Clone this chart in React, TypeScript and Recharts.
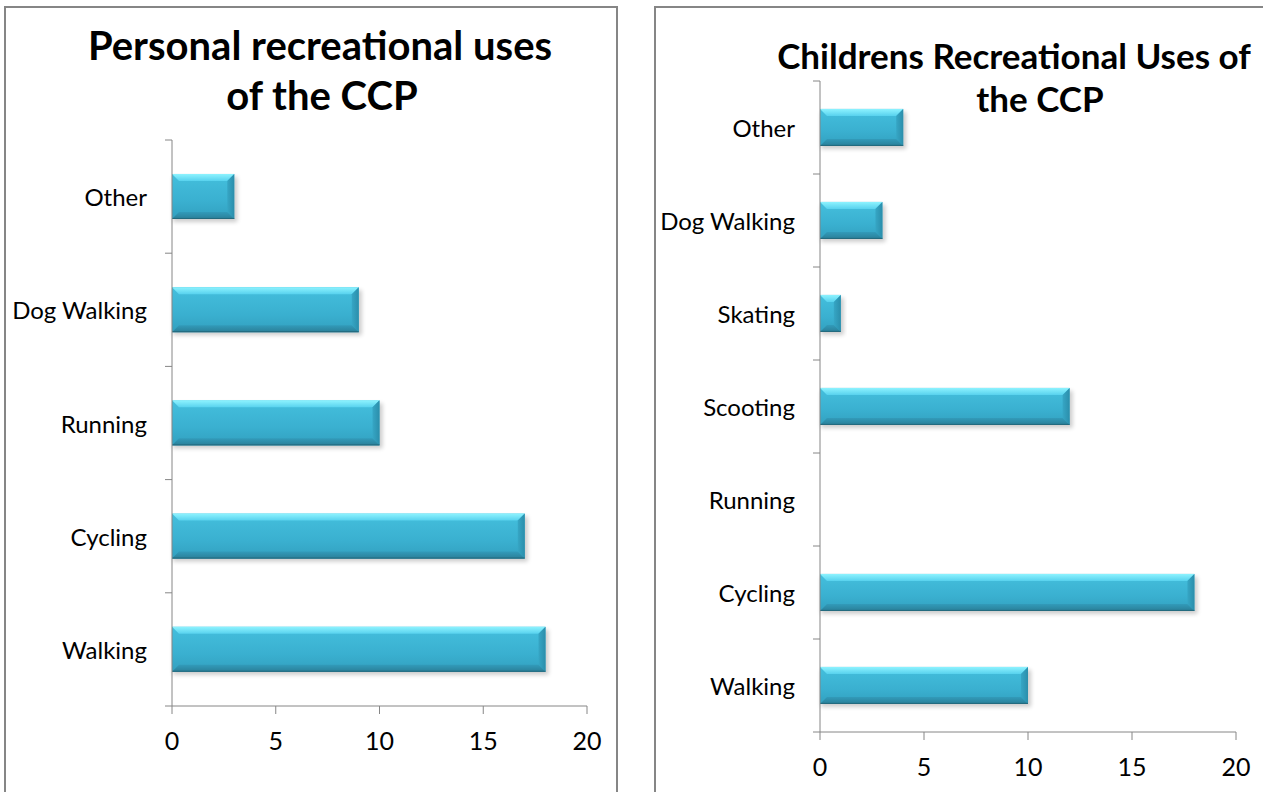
import React from "react";
import { BarChart, Bar, XAxis, YAxis } from "recharts";

// personal uses, listed top to bottom as drawn
const personalCategories = ["Other", "Dog Walking", "Running", "Cycling", "Walking"];
const personalValues = [3, 9, 10, 17, 18];

// childrens uses, top to bottom
const childCategories = ["Other", "Dog Walking", "Skating", "Scooting", "Running", "Cycling", "Walking"];
const childValues = [4, 3, 1, 12, 0, 18, 10];

const xTicks = [0, 5, 10, 15, 20];

const FONT = "Lato, 'Open Sans', sans-serif";
const AXIS = "#868686";

const personalData = personalCategories.map((name, i) => ({ name, value: personalValues[i] }));
const childData = childCategories.map((name, i) => ({ name, value: childValues[i] }));

function BevelBar(props: any) {
  const { x, y, width, height } = props;
  if (!width || width <= 0) return null;
  const b = Math.min(7, width / 2, height / 4);
  return (
    <g>
      <rect x={x + 1} y={y + 3} width={width + 2} height={height} fill="#000" opacity={0.2} filter="url(#barShadow)" />
      <rect x={x} y={y} width={width} height={height} fill="url(#barFace)" />
      <polygon
        points={`${x},${y} ${x + width},${y} ${x + width - b},${y + b} ${x + b},${y + b}`}
        fill="url(#barTop)"
      />
      <polygon
        points={`${x + width},${y} ${x + width},${y + height} ${x + width - b},${y + height - b} ${x + width - b},${y + b}`}
        fill="url(#barRight)"
      />
      <polygon
        points={`${x},${y + height} ${x + width},${y + height} ${x + width - b},${y + height - b} ${x + b},${y + height - b}`}
        fill="url(#barBottom)"
      />
      <line x1={x} x2={x + width} y1={y + height - 0.5} y2={y + height - 0.5} stroke="#23697d" strokeWidth={1} />
    </g>
  );
}

function CategoryTick(props: any) {
  const { x, y, payload, index, visibleTicksCount } = props;
  const half = payload.offset || 0;
  const axisX = x + 8;
  return (
    <g>
      <line x1={axisX - 7} x2={axisX} y1={y - half} y2={y - half} stroke={AXIS} />
      {index === visibleTicksCount - 1 && (
        <line x1={axisX - 7} x2={axisX} y1={y + half} y2={y + half} stroke={AXIS} />
      )}
      <text x={x - 17} y={y} textAnchor="end" dominantBaseline="central" fontFamily={FONT} fontSize={24} fill="#000">
        {payload.value}
      </text>
    </g>
  );
}

function Defs() {
  return (
    <defs>
      <linearGradient id="barFace" x1="0" y1="0" x2="0" y2="1">
        <stop offset="0%" stopColor="#44bfdd" />
        <stop offset="60%" stopColor="#3ab0d0" />
        <stop offset="100%" stopColor="#32a0bf" />
      </linearGradient>
      <linearGradient id="barTop" x1="0" y1="0" x2="0" y2="1">
        <stop offset="0%" stopColor="#8ef3ff" />
        <stop offset="100%" stopColor="#58d2ee" />
      </linearGradient>
      <linearGradient id="barRight" x1="0" y1="0" x2="1" y2="0">
        <stop offset="0%" stopColor="#36a6c5" />
        <stop offset="100%" stopColor="#2b8eab" />
      </linearGradient>
      <linearGradient id="barBottom" x1="0" y1="0" x2="0" y2="1">
        <stop offset="0%" stopColor="#329bba" />
        <stop offset="100%" stopColor="#2a7f98" />
      </linearGradient>
      <filter id="barShadow" x="-10%" y="-30%" width="120%" height="160%">
        <feGaussianBlur stdDeviation="2" />
      </filter>
    </defs>
  );
}

function HBarChart({ data, width, height, margin, yWidth }: any) {
  return (
    <BarChart layout="vertical" width={width} height={height} data={data} margin={margin} barCategoryGap="30%">
      <Defs />
      <XAxis
        type="number"
        domain={[0, 20]}
        ticks={xTicks}
        height={60}
        stroke={AXIS}
        tickSize={8}
        tick={{ fill: "#000", fontSize: 25, fontFamily: FONT }}
        tickMargin={18}
      />
      <YAxis
        type="category"
        dataKey="name"
        width={yWidth}
        stroke={AXIS}
        tickLine={false}
        tick={<CategoryTick />}
        interval={0}
      />
      <Bar dataKey="value" shape={<BevelBar />} isAnimationActive={false} />
    </BarChart>
  );
}

const panel: React.CSSProperties = {
  position: "absolute",
  border: `2px solid ${AXIS}`,
  background: "#fff",
  boxSizing: "border-box",
};

const titleStyle: React.CSSProperties = {
  position: "absolute",
  fontFamily: FONT,
  fontWeight: 700,
  color: "#000",
  whiteSpace: "nowrap",
  transform: "translate(-50%, -50%)",
};

export default function App() {
  return (
    <div style={{ position: "absolute", left: 0, top: 0, width: 1263, height: 792, overflow: "hidden", background: "#fff" }}>
      <div style={{ ...panel, left: 4, top: 6, width: 614, height: 820 }} />
      <div style={{ ...panel, left: 654, top: 6, width: 640, height: 820 }} />

      <div style={{ position: "absolute", left: 0, top: 0 }}>
        <HBarChart
          data={personalData}
          width={630}
          height={792}
          yWidth={172}
          margin={{ top: 140, right: 43, bottom: 26, left: 0 }}
        />
      </div>
      <div style={{ position: "absolute", left: 640, top: 0 }}>
        <HBarChart
          data={childData}
          width={623}
          height={792}
          yWidth={180}
          margin={{ top: 81, right: 27, bottom: 0, left: 0 }}
        />
      </div>

      <div style={{ ...titleStyle, left: 320, top: 45, fontSize: 40 }}>Personal recreational uses</div>
      <div style={{ ...titleStyle, left: 322, top: 95, fontSize: 40 }}>of the CCP</div>
      <div style={{ ...titleStyle, left: 1014, top: 55, fontSize: 35 }}>Childrens Recreational Uses of</div>
      <div style={{ ...titleStyle, left: 1040, top: 98, fontSize: 35 }}>the CCP</div>
    </div>
  );
}
